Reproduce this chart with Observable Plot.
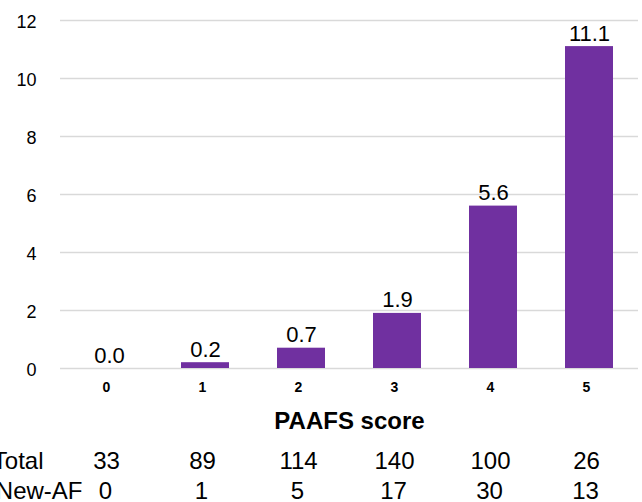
<!DOCTYPE html>
<html>
<head>
<meta charset="utf-8">
<script src="https://cdn.jsdelivr.net/npm/d3@7"></script>
<script src="https://cdn.jsdelivr.net/npm/@observablehq/plot@0.6"></script>
<style>
  html, body { margin: 0; padding: 0; background: #fff; }
  #chart { width: 642px; height: 502px; overflow: hidden; position: relative; }
</style>
</head>
<body>
<div id="chart"></div>
<script>
const scores = ["0", "1", "2", "3", "4", "5"];
const rates = [0.0, 0.2, 0.7, 1.9, 5.6, 11.1];
const totals = [33, 89, 114, 140, 100, 26];
const newAF = [0, 1, 5, 17, 30, 13];
const yTicks = [0, 2, 4, 6, 8, 10, 12];
const rowLabels = ["Total", "New-AF"];
const xLabel = "PAAFS score";

const data = scores.map((s, i) => ({score: s, rate: rates[i], total: totals[i], newAF: newAF[i]}));

const chart = Plot.plot({
  width: 642,
  height: 502,
  marginLeft: 60,
  marginRight: 4,
  marginTop: 20,
  marginBottom: 134,
  style: {fontFamily: "'Liberation Sans', Arial, sans-serif", background: "#fff", color: "#000"},
  x: {domain: scores, paddingInner: 0.5, paddingOuter: 0.25},
  y: {domain: [0, 12]},
  marks: [
    Plot.gridY(yTicks, {stroke: "#d9d9d9", strokeOpacity: 1, strokeWidth: 1.5}),
    Plot.axisY(yTicks, {tickSize: 0, tickPadding: 24, fontSize: 18, label: null, dy: 1.5}),
    Plot.axisX({tickSize: 0, tickPadding: 14, fontSize: 14, fontWeight: "bold", label: null, dx: -3}),
    Plot.barY(data, {x: "score", y: "rate", fill: "#7030A0"}),
    Plot.text(data, {x: "score", y: "rate", text: d => d.rate.toFixed(1), lineAnchor: "bottom", dy: -6, fontSize: 22}),
    Plot.text([xLabel], {text: d => d, frameAnchor: "bottom", dy: 60, fontSize: 24, fontWeight: "bold"}),
    Plot.text(data, {x: "score", text: d => String(d.total), frameAnchor: "bottom", dy: 100, dx: -3, fontSize: 24}),
    Plot.text(data, {x: "score", text: d => String(d.newAF), frameAnchor: "bottom", dy: 130, dx: -4, fontSize: 24}),
    Plot.text([rowLabels[0]], {text: d => d, frameAnchor: "bottom-left", textAnchor: "end", dx: -17, dy: 100, fontSize: 24}),
    Plot.text([rowLabels[1]], {text: d => d, frameAnchor: "bottom-left", textAnchor: "end", dx: 22, dy: 130, fontSize: 24})
  ]
});
document.getElementById("chart").appendChild(chart);
</script>
</body>
</html>
